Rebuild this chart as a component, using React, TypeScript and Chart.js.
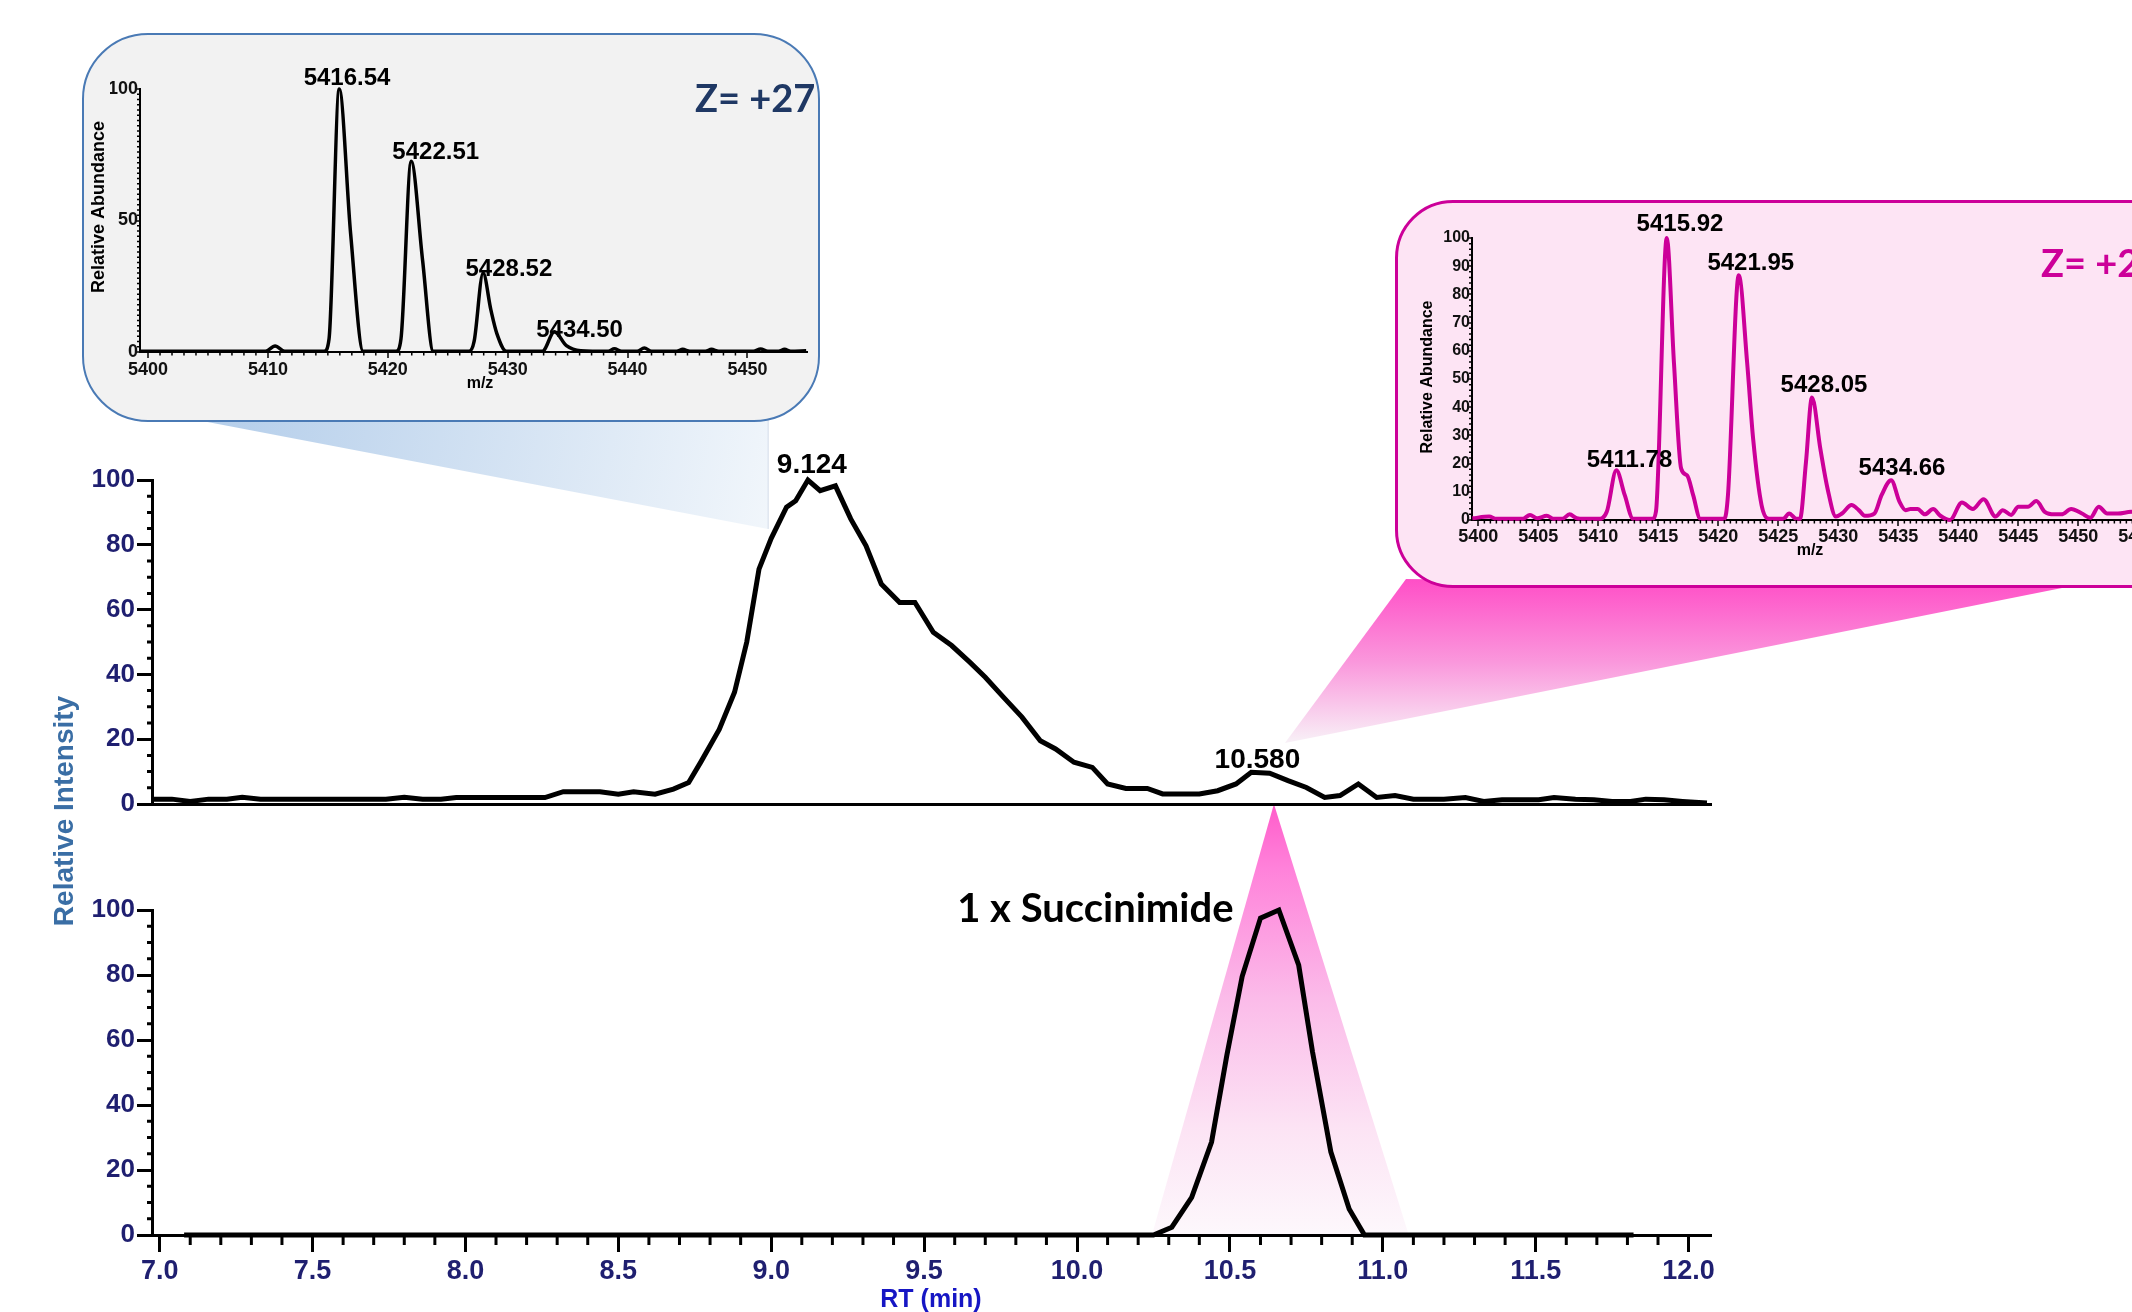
import React, { useEffect, useRef } from 'react';
import { Chart, registerables } from 'chart.js';

Chart.register(...registerables);

// ================= DATA: main chromatograms =================
const TOP_RT = [6.98, 7.04, 7.10, 7.16, 7.22, 7.27, 7.33, 7.39, 7.45, 7.51, 7.57, 7.63, 7.69, 7.74, 7.80, 7.86, 7.92, 7.97, 8.03, 8.09, 8.15, 8.21, 8.26, 8.32, 8.38, 8.44, 8.50, 8.55, 8.62, 8.68, 8.73, 8.77, 8.83, 8.88, 8.92, 8.96, 9.00, 9.05, 9.08, 9.12, 9.16, 9.21, 9.26, 9.31, 9.36, 9.42, 9.47, 9.53, 9.59, 9.65, 9.70, 9.76, 9.82, 9.88, 9.93, 9.99, 10.05, 10.10, 10.16, 10.23, 10.28, 10.34, 10.40, 10.46, 10.52, 10.57, 10.63, 10.69, 10.75, 10.81, 10.86, 10.92, 10.98, 11.04, 11.10, 11.15, 11.20, 11.27, 11.33, 11.39, 11.45, 11.51, 11.56, 11.63, 11.69, 11.75, 11.81, 11.86, 11.92, 11.98, 12.06];
const TOP_INTENSITY = [1.5, 1.5, 0.8, 1.5, 1.5, 2.1, 1.5, 1.5, 1.5, 1.5, 1.5, 1.5, 1.5, 1.5, 2.1, 1.5, 1.5, 2.0, 2.0, 2.0, 2.0, 2.0, 2.0, 3.8, 3.8, 3.8, 3.0, 3.8, 3.0, 4.6, 6.6, 13, 23, 34.5, 50, 72.5, 82, 91.6, 93.6, 100, 96.7, 98.2, 88, 79.7, 67.9, 62.2, 62.2, 53, 48.9, 43.7, 39.1, 32.9, 26.8, 19.5, 17, 12.9, 11.3, 6.2, 4.8, 4.8, 3.1, 3.1, 3.1, 4.1, 6.2, 9.8, 9.5, 7.2, 5.1, 2.0, 2.6, 6.2, 2.0, 2.6, 1.5, 1.5, 1.5, 2.0, 0.8, 1.3, 1.3, 1.3, 2.0, 1.5, 1.3, 0.8, 0.8, 1.5, 1.3, 0.8, 0.3];

const BOTTOM_RT = [7.08, 10.25, 10.31, 10.375, 10.44, 10.49, 10.54, 10.60, 10.66, 10.725, 10.77, 10.83, 10.89, 10.94, 11.82];
const BOTTOM_INTENSITY = [0, 0, 2.4, 11.6, 28.6, 55.3, 79.5, 97.5, 100, 83, 56.4, 25.6, 8, 0, 0];

const RT_TICKS = [7.0, 7.5, 8.0, 8.5, 9.0, 9.5, 10.0, 10.5, 11.0, 11.5, 12.0];
const INTENSITY_TICKS = [0, 20, 40, 60, 80, 100];

const TOP_PEAK_LABELS = [
  { rt: 9.133, value: 102.2, text: '9.124' },
  { rt: 10.59, value: 11.1, text: '10.580' },
];
const BOTTOM_LABEL = { rt: 10.06, value: 96.4, text: '1 x Succinimide' };

// ================= DATA: inset spectra =================
const LEFT_MZ = [5399.3, 5409.8, 5410.6, 5411.4, 5414.7, 5415.1, 5415.95, 5416.9, 5417.95, 5420.7, 5421.1, 5421.95, 5422.9, 5423.8, 5426.8, 5427.2, 5427.95, 5428.6, 5429.1, 5429.9, 5432.9, 5433.9, 5434.9, 5436.1, 5438.4, 5438.9, 5439.5, 5440.8, 5441.4, 5442.0, 5444.1, 5444.6, 5445.2, 5446.5, 5447.0, 5447.6, 5450.5, 5451.1, 5451.7, 5452.6, 5453.1, 5453.6, 5454.9];
const LEFT_ABUNDANCE = [0.3, 0.3, 2.3, 0.3, 0.3, 5, 100, 45, 0.3, 0.3, 5, 72.5, 35, 0.3, 0.3, 4, 30, 16, 7, 0.3, 0.3, 7.7, 2.4, 0.5, 0.3, 1.2, 0.3, 0.3, 1.5, 0.3, 0.3, 1.0, 0.3, 0.3, 1.0, 0.3, 0.3, 1.1, 0.3, 0.3, 1.0, 0.3, 0.5];
const LEFT_MZ_TICKS = [5400, 5410, 5420, 5430, 5440, 5450];
const LEFT_ABUNDANCE_TICKS = [0, 50, 100];
const LEFT_PEAK_LABELS = [
  { mz: 5416.6, ab: 101.5, text: '5416.54' },
  { mz: 5424.0, ab: 73.4, text: '5422.51' },
  { mz: 5430.1, ab: 28.9, text: '5428.52' },
  { mz: 5436.0, ab: 5.7, text: '5434.50' },
];
const LEFT_CHARGE = 'Z= +27';

const RIGHT_MZ = [5399.5, 5400.9, 5401.5, 5403.7, 5404.3, 5404.9, 5405.7, 5406.3, 5407.0, 5407.6, 5408.2, 5408.8, 5410.0, 5410.7, 5411.5, 5412.2, 5412.9, 5414.5, 5414.8, 5415.7, 5416.3, 5416.9, 5417.4, 5417.9, 5418.5, 5420.5, 5420.8, 5421.7, 5422.4, 5422.9, 5423.6, 5424.2, 5425.4, 5425.9, 5426.5, 5426.8, 5427.3, 5427.8, 5428.5, 5429.1, 5429.8, 5430.3, 5431.1, 5431.7, 5432.2, 5433.0, 5433.6, 5434.4, 5435.1, 5435.6, 5436.0, 5436.6, 5437.2, 5437.9, 5438.5, 5439.3, 5440.3, 5441.2, 5442.1, 5443.1, 5443.7, 5444.4, 5445.0, 5445.8, 5446.5, 5447.2, 5448.0, 5448.6, 5449.4, 5450.3, 5451.0, 5451.7, 5452.4, 5453.3, 5454.4, 5455.3, 5456.2];
const RIGHT_ABUNDANCE = [0.6, 1.2, 0.4, 0.4, 1.8, 0.6, 1.5, 0.4, 0.4, 2.0, 0.6, 0.4, 0.4, 2.9, 17.6, 8.8, 0.4, 0.4, 3, 100, 55.7, 18.2, 15.8, 8.8, 0.4, 0.4, 8.8, 86.8, 55.7, 28.7, 5.3, 0.4, 0.4, 2.3, 0.4, 0.4, 20.5, 43.4, 25.2, 11.1, 1.2, 2.3, 5.3, 3.5, 1.5, 2.3, 8.8, 14.1, 6.4, 3.5, 3.9, 3.9, 2.0, 3.9, 1.5, 0.0, 6.2, 3.9, 7.4, 1.2, 3.5, 1.8, 4.7, 4.7, 6.7, 2.9, 2.0, 2.0, 3.9, 2.3, 0.8, 4.7, 2.3, 2.3, 2.9, 2.0, 2.6];
const RIGHT_MZ_TICKS = [5400, 5405, 5410, 5415, 5420, 5425, 5430, 5435, 5440, 5445, 5450, 5455];
const RIGHT_ABUNDANCE_TICKS = [0, 10, 20, 30, 40, 50, 60, 70, 80, 90, 100];
const RIGHT_PEAK_LABELS = [
  { mz: 5416.8, ab: 102.5, text: '5415.92' },
  { mz: 5422.7, ab: 88.5, text: '5421.95' },
  { mz: 5428.8, ab: 45.3, text: '5428.05' },
  { mz: 5412.6, ab: 18.9, text: '5411.78' },
  { mz: 5435.3, ab: 16.0, text: '5434.66' },
];
const RIGHT_CHARGE = 'Z= +27';

// ================= LAYOUT & STYLE =================
const PAGE_W = 2132;
const PAGE_H = 1312;
const MAIN_LEFT = 152;
const MAIN_RIGHT = 1710;
const TOP_PANEL = { top: 480, bottom: 804 };
const BOTTOM_PANEL = { top: 910, bottom: 1235 };
const MAIN_Y_AXIS_W = 80;
const RT_MIN = 6.975;
const RT_MAX = 12.07;

const LEFT_BOX = { left: 82, top: 33, width: 738, height: 389 };
const RIGHT_BOX = { left: 1395, top: 200, width: 800, height: 388 };

const BLUE_CONE = { leftX: 197, tipRt: 8.99, tipValue: 84.9 };
const PINK_CONE_UPPER = { leftX: 1406, rightX: 2067, tipRt: 10.68, tipValue: 18.8 };
const PINK_CONE_LOWER = { apexRt: 10.644, baseFromRt: 10.245, baseToRt: 11.085 };

const NUM_FONT = "'Liberation Sans', Arial, sans-serif";
const TITLE_FONT = "Lato, 'Open Sans', sans-serif";
const NAVY = '#1f1f70';
const RT_BLUE = '#1616c4';
const INTENSITY_BLUE = '#3a6ea5';

const zip = (xs: number[], ys: number[]) => xs.map((x, i) => ({ x, y: ys[i] }));

function drawText(ctx: any, str: string, x: number, y: number, font: string, color: string, align = 'center', baseline = 'alphabetic', rot = 0) {
  ctx.save();
  ctx.font = font;
  ctx.fillStyle = color;
  ctx.textAlign = align;
  ctx.textBaseline = baseline;
  ctx.translate(x, y);
  if (rot) ctx.rotate(rot);
  ctx.fillText(str, 0, 0);
  ctx.restore();
}

function drawMinorTicks(chart: any, id: string, from: number, to: number, step: number, len: number, width: number, majors: number[]) {
  const s = chart.scales[id];
  const ctx = chart.ctx;
  ctx.save();
  ctx.strokeStyle = '#000';
  ctx.lineWidth = width;
  ctx.beginPath();
  const n = Math.round((to - from) / step);
  for (let i = 0; i <= n; i++) {
    const v = from + i * step;
    if (majors.some((m) => Math.abs(m - v) < step / 10)) continue;
    const p = s.getPixelForValue(v);
    if (s.isHorizontal()) {
      ctx.moveTo(p, s.top);
      ctx.lineTo(p, s.top + len);
    } else {
      ctx.moveTo(s.right, p);
      ctx.lineTo(s.right - len, p);
    }
  }
  ctx.stroke();
  ctx.restore();
}

function polygon(ctx: any, pts: number[][], fill: any) {
  ctx.save();
  ctx.beginPath();
  ctx.moveTo(pts[0][0], pts[0][1]);
  for (let i = 1; i < pts.length; i++) ctx.lineTo(pts[i][0], pts[i][1]);
  ctx.closePath();
  ctx.fillStyle = fill;
  ctx.fill();
  ctx.restore();
}

function mainConfig(kind: 'top' | 'bottom', decor: any) {
  const isBottom = kind === 'bottom';
  const panel = isBottom ? BOTTOM_PANEL : TOP_PANEL;
  const xH = isBottom ? PAGE_H - BOTTOM_PANEL.bottom : 0;
  const data = isBottom ? zip(BOTTOM_RT, BOTTOM_INTENSITY) : zip(TOP_RT, TOP_INTENSITY);
  return {
    type: 'line',
    data: {
      datasets: [{ data, borderColor: '#000', borderWidth: 5, pointRadius: 0, tension: 0, fill: false, clip: false }],
    },
    options: {
      responsive: false,
      animation: false,
      events: [],
      layout: {
        padding: {
          left: MAIN_LEFT - MAIN_Y_AXIS_W,
          right: PAGE_W - MAIN_RIGHT,
          top: panel.top,
          bottom: PAGE_H - panel.bottom - xH,
        },
      },
      plugins: { legend: { display: false }, tooltip: { enabled: false } },
      scales: {
        x: {
          type: 'linear',
          min: RT_MIN,
          max: RT_MAX,
          afterFit: (s: any) => { s.height = xH; },
          afterBuildTicks: (s: any) => { s.ticks = RT_TICKS.map((v) => ({ value: v })); },
          grid: { display: true, drawOnChartArea: false, drawTicks: isBottom, tickLength: 17, tickWidth: 3, tickColor: '#000', lineWidth: 3 },
          border: { display: true, color: '#000', width: 3 },
          ticks: {
            display: isBottom, autoSkip: false, maxRotation: 0, minRotation: 0, padding: 3, color: NAVY,
            font: { family: NUM_FONT, size: 27, weight: 'bold' },
            callback: (v: any) => Number(v).toFixed(1),
          },
          title: {
            display: isBottom, text: 'RT (min)', color: RT_BLUE,
            font: { family: NUM_FONT, size: 25, weight: 'bold', lineHeight: 1 },
            padding: { top: 0, bottom: -1 },
          },
        },
        y: {
          min: 0,
          max: 100,
          afterFit: (s: any) => { s.width = MAIN_Y_AXIS_W; },
          afterBuildTicks: (s: any) => { s.ticks = INTENSITY_TICKS.map((v) => ({ value: v })); },
          grid: { drawOnChartArea: false, drawTicks: true, tickLength: 15, tickWidth: 3, tickColor: '#000', lineWidth: 3 },
          border: { display: true, color: '#000', width: 3 },
          ticks: { padding: 2, color: NAVY, font: { family: NUM_FONT, size: 26, weight: 'bold' }, callback: (v: any) => String(v) },
        },
      },
    },
    plugins: [decor],
  };
}

function makeTopDecor(bottomChart: any) {
  return {
    id: 'topDecor',
    beforeDraw(chart: any) {
      const ctx = chart.ctx;
      const x = chart.scales.x;
      const y = chart.scales.y;
      // blue cone from the left inset towards the main peak
      const bTopY = LEFT_BOX.top + LEFT_BOX.height - 2;
      const bx = x.getPixelForValue(BLUE_CONE.tipRt);
      const by = y.getPixelForValue(BLUE_CONE.tipValue);
      const gBlue = ctx.createLinearGradient(BLUE_CONE.leftX, bTopY, bx, by);
      gBlue.addColorStop(0, '#b3cdea');
      gBlue.addColorStop(1, '#f1f6fb');
      polygon(ctx, [[BLUE_CONE.leftX, bTopY], [bx, bTopY], [bx, by]], gBlue);
      ctx.save();
      ctx.strokeStyle = '#d3dde9';
      ctx.lineWidth = 1;
      ctx.beginPath();
      ctx.moveTo(bx, bTopY);
      ctx.lineTo(bx, by);
      ctx.stroke();
      ctx.restore();

      // pink cone from the right inset towards the 10.580 peak
      const boxBottom = RIGHT_BOX.top + RIGHT_BOX.height;
      const px = x.getPixelForValue(PINK_CONE_UPPER.tipRt);
      const py = y.getPixelForValue(PINK_CONE_UPPER.tipValue);
      const gPink = ctx.createLinearGradient(0, boxBottom - 8, 0, py);
      gPink.addColorStop(0, '#ff4fc7');
      gPink.addColorStop(0.5, '#fa97dc');
      gPink.addColorStop(1, '#f8f1f7');
      polygon(ctx, [[PINK_CONE_UPPER.leftX, boxBottom - 9], [PINK_CONE_UPPER.rightX, boxBottom - 1], [px, py]], gPink);

      // pink cone between the two chromatograms
      const apexX = x.getPixelForValue(PINK_CONE_LOWER.apexRt);
      const apexY = y.getPixelForValue(0);
      const bs = bottomChart.scales;
      const baseY = bs.y.getPixelForValue(0);
      const gLow = ctx.createLinearGradient(0, apexY, 0, baseY);
      gLow.addColorStop(0, '#ff5cca');
      gLow.addColorStop(0.15, '#ff82da');
      gLow.addColorStop(0.45, '#fbbbe9');
      gLow.addColorStop(0.75, '#fce3f4');
      gLow.addColorStop(1, '#fdf8fc');
      polygon(ctx, [[apexX, apexY], [bs.x.getPixelForValue(PINK_CONE_LOWER.baseToRt), baseY], [bs.x.getPixelForValue(PINK_CONE_LOWER.baseFromRt), baseY]], gLow);
    },
    afterDraw(chart: any) {
      const ctx = chart.ctx;
      const x = chart.scales.x;
      const y = chart.scales.y;
      drawMinorTicks(chart, 'y', 0, 100, 5, 5, 3, INTENSITY_TICKS);
      TOP_PEAK_LABELS.forEach((l) => {
        drawText(ctx, l.text, x.getPixelForValue(l.rt), y.getPixelForValue(l.value), `bold 28px ${NUM_FONT}`, '#000');
      });
      drawText(ctx, 'Relative Intensity', 65, 811, `bold 28px ${NUM_FONT}`, INTENSITY_BLUE, 'center', 'middle', -Math.PI / 2);
    },
  };
}

const bottomDecor = {
  id: 'bottomDecor',
  afterDraw(chart: any) {
    const x = chart.scales.x;
    const y = chart.scales.y;
    drawMinorTicks(chart, 'x', 7.0, 12.0, 0.1, 10, 3, RT_TICKS);
    drawMinorTicks(chart, 'y', 0, 100, 5, 5, 3, INTENSITY_TICKS);
    drawText(chart.ctx, BOTTOM_LABEL.text, x.getPixelForValue(BOTTOM_LABEL.rt), y.getPixelForValue(BOTTOM_LABEL.value), `bold 40px ${TITLE_FONT}`, '#000');
  },
};

const LEFT_SPEC = {
  mz: LEFT_MZ, ab: LEFT_ABUNDANCE, color: '#000000', lineWidth: 3.5,
  mzMin: 5399.33, mzMax: 5454.97,
  xTicks: LEFT_MZ_TICKS, yTicks: LEFT_ABUNDANCE_TICKS,
  xMinor: 1, yMinor: 2,
  peakLabels: LEFT_PEAK_LABELS,
  charge: LEFT_CHARGE, chargeColor: '#1f3864',
  box: LEFT_BOX,
  area: { left: 140, right: 807, top: 89, bottom: 352 },
  yTitle: { x: 99, y: 207, size: 18 },
  xTitle: { x: 480, y: 384 },
  chargeAt: { x: 695, y: 112 },
  yTickSize: 18, xTickPad: 1,
};

const RIGHT_SPEC = {
  mz: RIGHT_MZ, ab: RIGHT_ABUNDANCE, color: '#cc0099', lineWidth: 4,
  mzMin: 5399.47, mzMax: 5455.97,
  xTicks: RIGHT_MZ_TICKS, yTicks: RIGHT_ABUNDANCE_TICKS,
  xMinor: 0.5, yMinor: 2,
  peakLabels: RIGHT_PEAK_LABELS,
  charge: RIGHT_CHARGE, chargeColor: '#cc0099',
  box: RIGHT_BOX,
  area: { left: 1472, right: 2150, top: 238, bottom: 520 },
  yTitle: { x: 1428, y: 377, size: 16 },
  xTitle: { x: 1810, y: 551 },
  chargeAt: { x: 2041, y: 277 },
  yTickSize: 16, xTickPad: 0,
};

function spectrumConfig(s: any) {
  const Y_W = 30;
  const X_H = 40;
  const ox = s.box.left;
  const oy = s.box.top;
  const a = { left: s.area.left - ox, right: s.area.right - ox, top: s.area.top - oy, bottom: s.area.bottom - oy };
  return {
    type: 'line',
    data: {
      datasets: [{
        data: zip(s.mz, s.ab), borderColor: s.color, borderWidth: s.lineWidth, pointRadius: 0,
        cubicInterpolationMode: 'monotone', borderJoinStyle: 'round', fill: false, clip: false,
      }],
    },
    options: {
      responsive: false,
      animation: false,
      events: [],
      layout: { padding: { left: a.left - Y_W, right: s.box.width - a.right, top: a.top, bottom: s.box.height - a.bottom - X_H } },
      plugins: { legend: { display: false }, tooltip: { enabled: false } },
      scales: {
        x: {
          type: 'linear', min: s.mzMin, max: s.mzMax,
          afterFit: (sc: any) => { sc.height = X_H; },
          afterBuildTicks: (sc: any) => { sc.ticks = s.xTicks.map((v: number) => ({ value: v })); },
          grid: { drawOnChartArea: false, drawTicks: true, tickLength: 6, tickWidth: 1.5, tickColor: '#000', lineWidth: 2 },
          border: { display: true, color: '#000', width: 2 },
          ticks: {
            autoSkip: false, maxRotation: 0, minRotation: 0, padding: s.xTickPad, color: '#111',
            font: { family: NUM_FONT, size: 18, weight: 'bold' }, callback: (v: any) => String(v),
          },
        },
        y: {
          min: 0, max: 100,
          afterFit: (sc: any) => { sc.width = Y_W; },
          afterBuildTicks: (sc: any) => { sc.ticks = s.yTicks.map((v: number) => ({ value: v })); },
          grid: { drawOnChartArea: false, drawTicks: true, tickLength: 5, tickWidth: 1.5, tickColor: '#000', lineWidth: 2 },
          border: { display: true, color: '#000', width: 2 },
          ticks: { padding: -3, color: '#111', font: { family: NUM_FONT, size: s.yTickSize, weight: 'bold' }, callback: (v: any) => String(v) },
        },
      },
    },
    plugins: [{
      id: 'specDecor',
      afterDraw(chart: any) {
        const ctx = chart.ctx;
        const x = chart.scales.x;
        const y = chart.scales.y;
        drawMinorTicks(chart, 'x', s.xTicks[0], s.xTicks[s.xTicks.length - 1], s.xMinor, 3.5, 1.5, s.xTicks);
        drawMinorTicks(chart, 'y', 0, 100, s.yMinor, 3, 1.5, s.yTicks);
        s.peakLabels.forEach((l: any) => {
          drawText(ctx, l.text, x.getPixelForValue(l.mz), y.getPixelForValue(l.ab), `bold 24px ${NUM_FONT}`, '#000');
        });
        drawText(ctx, 'Relative Abundance', s.yTitle.x - ox, s.yTitle.y - oy, `bold ${s.yTitle.size}px ${NUM_FONT}`, '#000', 'center', 'middle', -Math.PI / 2);
        drawText(ctx, 'm/z', s.xTitle.x - ox, s.xTitle.y - oy, `bold 16px ${NUM_FONT}`, '#000', 'center', 'middle');
        drawText(ctx, s.charge, s.chargeAt.x - ox, s.chargeAt.y - oy, `bold 38px ${TITLE_FONT}`, s.chargeColor, 'left', 'alphabetic');
      },
    }],
  };
}

export default function App() {
  const topRef = useRef<HTMLCanvasElement | null>(null);
  const bottomRef = useRef<HTMLCanvasElement | null>(null);
  const leftRef = useRef<HTMLCanvasElement | null>(null);
  const rightRef = useRef<HTMLCanvasElement | null>(null);

  useEffect(() => {
    const bottom = new Chart(bottomRef.current as any, mainConfig('bottom', bottomDecor) as any);
    const top = new Chart(topRef.current as any, mainConfig('top', makeTopDecor(bottom)) as any);
    const left = new Chart(leftRef.current as any, spectrumConfig(LEFT_SPEC) as any);
    const right = new Chart(rightRef.current as any, spectrumConfig(RIGHT_SPEC) as any);
    return () => {
      left.destroy();
      right.destroy();
      top.destroy();
      bottom.destroy();
    };
  }, []);

  const abs = (l: number, t: number, w: number, h: number, z: number): React.CSSProperties => ({
    position: 'absolute', left: l, top: t, width: w, height: h, zIndex: z,
  });

  return (
    <div style={{ position: 'absolute', left: 0, top: 0, width: PAGE_W, height: PAGE_H, overflow: 'hidden', background: '#ffffff' }}>
      <canvas ref={topRef} width={PAGE_W} height={PAGE_H} style={abs(0, 0, PAGE_W, PAGE_H, 1)} />
      <canvas ref={bottomRef} width={PAGE_W} height={PAGE_H} style={abs(0, 0, PAGE_W, PAGE_H, 2)} />
      <div style={{ ...abs(LEFT_BOX.left, LEFT_BOX.top, LEFT_BOX.width, LEFT_BOX.height, 3), boxSizing: 'border-box', border: '2.5px solid #4a7ab5', borderRadius: 66, background: '#f2f2f2' }} />
      <canvas ref={leftRef} width={LEFT_BOX.width} height={LEFT_BOX.height} style={abs(LEFT_BOX.left, LEFT_BOX.top, LEFT_BOX.width, LEFT_BOX.height, 4)} />
      <div style={{ ...abs(RIGHT_BOX.left, RIGHT_BOX.top, RIGHT_BOX.width, RIGHT_BOX.height, 3), boxSizing: 'border-box', border: '3px solid #cc0099', borderRadius: 58, background: '#fde4f4' }} />
      <canvas ref={rightRef} width={RIGHT_BOX.width} height={RIGHT_BOX.height} style={abs(RIGHT_BOX.left, RIGHT_BOX.top, RIGHT_BOX.width, RIGHT_BOX.height, 4)} />
    </div>
  );
}
